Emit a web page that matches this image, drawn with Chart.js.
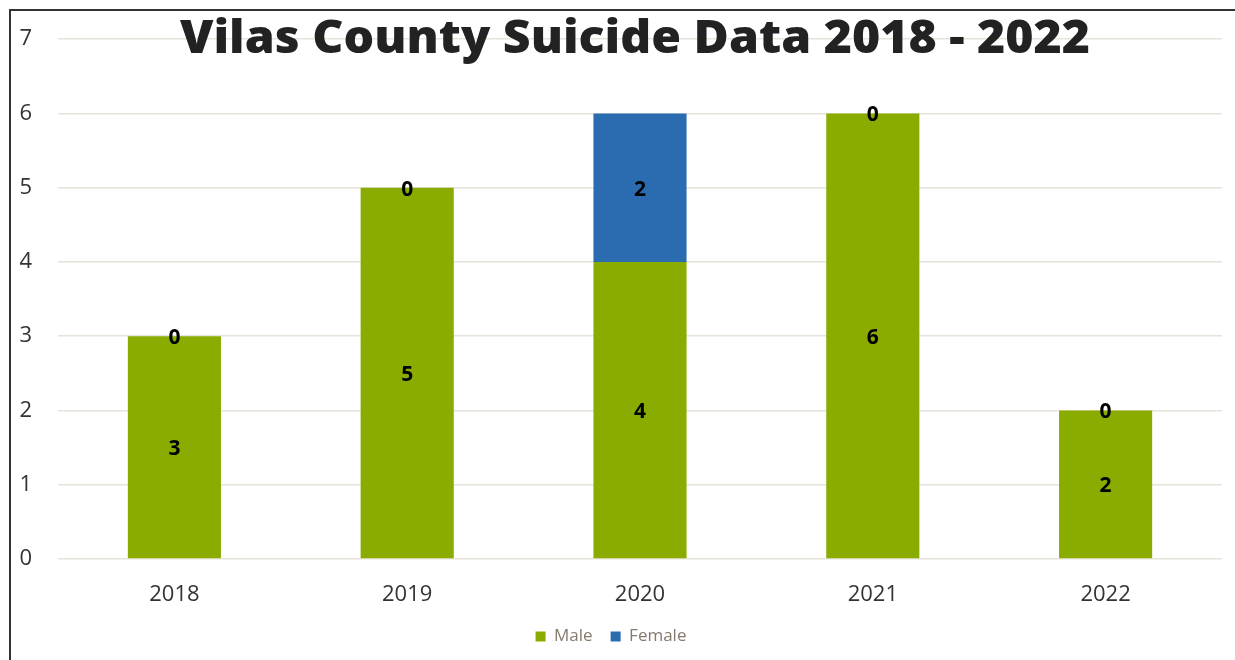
<!DOCTYPE html>
<html>
<head>
<meta charset="utf-8">
<script src="https://cdn.jsdelivr.net/npm/chart.js@4.4.1/dist/chart.umd.min.js"></script>
<style>
  html, body { margin: 0; padding: 0; background: #fff; }
  #wrap { position: relative; width: 1235px; height: 660px; }
  #frame { position: absolute; left: 9px; top: 9px; right: 0; bottom: 0;
           border-left: 2px solid #333; border-top: 2px solid #333; pointer-events: none; }
</style>
</head>
<body>
<div id="wrap">
  <canvas id="chart" width="1235" height="660"></canvas>
  <div id="frame"></div>
</div>
<script>
// data
const years = ['2018', '2019', '2020', '2021', '2022'];
const male = [3, 5, 4, 6, 2];
const female = [0, 0, 2, 0, 0];
const yTicks = [0, 1, 2, 3, 4, 5, 6, 7];
const chartTitle = 'Vilas County Suicide Data 2018 - 2022';

const FONT = "'Open Sans', 'Noto Sans', sans-serif";

// value labels in the middle of each segment
const segmentLabels = {
    id: 'segmentLabels',
    afterDatasetsDraw(chart) {
        const ctx = chart.ctx;
        ctx.save();
        ctx.font = 'bold 21px ' + FONT;
        ctx.fillStyle = '#000';
        ctx.textAlign = 'center';
        ctx.textBaseline = 'middle';
        chart.data.datasets.forEach((ds, i) => {
            chart.getDatasetMeta(i).data.forEach((bar, j) => {
                const y = (bar.y + bar.base) / 2;
                ctx.fillText(String(ds.data[j]), bar.x, y + 2);
            });
        });
        ctx.restore();
    }
};

// title drawn over the plot, like the original
const overlayTitle = {
    id: 'overlayTitle',
    afterDraw(chart) {
        const ctx = chart.ctx;
        ctx.save();
        ctx.font = "800 46px 'Open Sans', 'DejaVu Sans', sans-serif";
        ctx.fillStyle = '#222';
        ctx.textBaseline = 'alphabetic';
        ctx.textAlign = 'left';
        const w = ctx.measureText(chartTitle).width;
        const target = 910;
        const sx = target / w;
        ctx.translate(635 - target / 2, 53);
        ctx.scale(sx, 1);
        ctx.fillText(chartTitle, 0, 0);
        ctx.restore();
    }
};

const ctx = document.getElementById('chart').getContext('2d');
new Chart(ctx, {
    type: 'bar',
    data: {
        labels: years,
        datasets: [
            { label: 'Male', data: male, backgroundColor: '#8aab00', barPercentage: 0.8, categoryPercentage: 0.5 },
            { label: 'Female', data: female, backgroundColor: '#2b6cb0', barPercentage: 0.8, categoryPercentage: 0.5 }
        ]
    },
    options: {
        responsive: false,
        animation: false,
        layout: { padding: { top: 34, right: 13, left: 0, bottom: 5 } },
        scales: {
            x: {
                stacked: true,
                grid: { display: false, drawTicks: false },
                border: { display: false },
                ticks: { color: '#333', font: { family: FONT, size: 22 }, padding: 23 },
                afterFit: (s) => { s.height = 51; }
            },
            y: {
                stacked: true,
                min: 0, max: 7,
                afterBuildTicks: (s) => { s.ticks = yTicks.map(v => ({ value: v })); },
                grid: { color: '#e6e4da', lineWidth: 1.5, drawTicks: false },
                border: { display: false },
                ticks: { color: '#333', font: { family: FONT, size: 22 }, padding: 26 },
                afterFit: (s) => { s.width = 58; }
            }
        },
        plugins: {
            legend: {
                position: 'bottom',
                labels: {
                    boxWidth: 10, boxHeight: 10, padding: 18,
                    color: '#857a6c',
                    font: { family: FONT, size: 17 }
                }
            },
            tooltip: { enabled: false }
        }
    },
    plugins: [segmentLabels, overlayTitle]
});
</script>
</body>
</html>
